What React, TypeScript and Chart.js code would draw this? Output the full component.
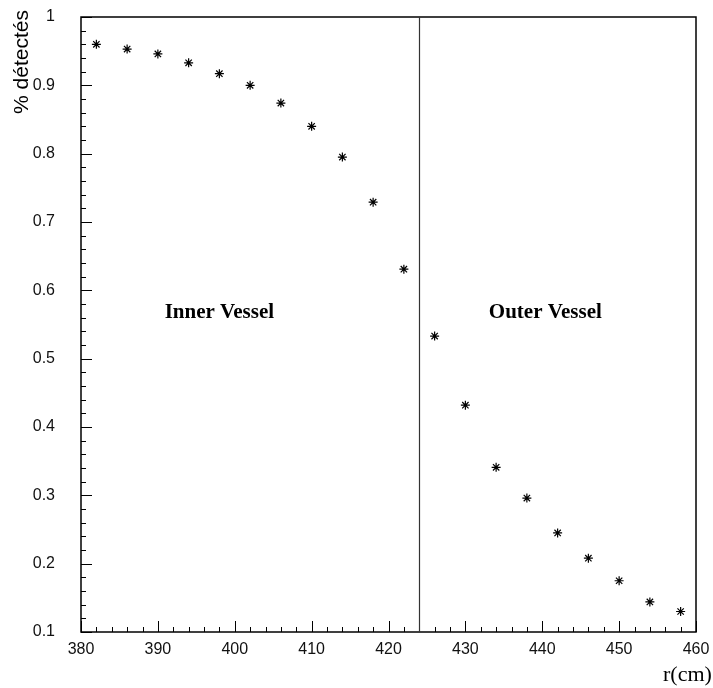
import React, { useEffect, useRef } from "react";
import { Chart, registerables } from "chart.js";

Chart.register(...registerables);

const radii = [382, 386, 390, 394, 398, 402, 406, 410, 414, 418, 422, 426, 430, 434, 438, 442, 446, 450, 454, 458];
const detected = [0.960, 0.953, 0.946, 0.933, 0.917, 0.900, 0.874, 0.840, 0.795, 0.729, 0.631, 0.533, 0.432, 0.341, 0.296, 0.245, 0.208, 0.175, 0.144, 0.130];
const boundary = 424;
const regionLabels = [
  { text: "Inner Vessel", x: 398, y: 0.567 },
  { text: "Outer Vessel", x: 440.4, y: 0.567 },
];
const xTitle = "r(cm)";
const yTitle = "% détectés";

const framePlugin = {
  id: "frame",
  afterDraw(chart: any) {
    const { ctx, chartArea, scales } = chart;
    const xs = scales.x;
    const ys = scales.y;
    ctx.save();
    ctx.strokeStyle = "#000";
    ctx.lineWidth = 1.5;
    ctx.strokeRect(chartArea.left, chartArea.top, chartArea.right - chartArea.left, chartArea.bottom - chartArea.top);
    ctx.lineWidth = 1;
    for (let v = 380; v <= 460; v += 2) {
      const px = Math.round(xs.getPixelForValue(v)) + 0.5;
      const len = v % 10 === 0 ? 11 : 5;
      ctx.beginPath();
      ctx.moveTo(px, chartArea.bottom);
      ctx.lineTo(px, chartArea.bottom - len);
      ctx.stroke();
    }
    for (let i = 0; i <= 45; i++) {
      const v = 0.1 + i * 0.02;
      const py = Math.round(ys.getPixelForValue(v)) + 0.5;
      const len = i % 5 === 0 ? 11 : 5;
      ctx.beginPath();
      ctx.moveTo(chartArea.left, py);
      ctx.lineTo(chartArea.left + len, py);
      ctx.stroke();
    }
    const bx = Math.round(xs.getPixelForValue(boundary)) + 0.5;
    ctx.strokeStyle = "#333";
    ctx.lineWidth = 1.2;
    ctx.beginPath();
    ctx.moveTo(bx, chartArea.top);
    ctx.lineTo(bx, chartArea.bottom);
    ctx.stroke();
    ctx.fillStyle = "#000";
    ctx.font = "bold 21px 'Liberation Serif', 'Times New Roman', serif";
    ctx.textAlign = "center";
    ctx.textBaseline = "middle";
    for (const l of regionLabels) {
      ctx.fillText(l.text, xs.getPixelForValue(l.x), ys.getPixelForValue(l.y));
    }
    ctx.font = "22px 'Liberation Serif', 'Times New Roman', serif";
    ctx.textAlign = "left";
    ctx.textBaseline = "alphabetic";
    ctx.fillText(xTitle, 663, 681);
    ctx.save();
    ctx.translate(28, 10);
    ctx.rotate(-Math.PI / 2);
    ctx.font = "21px 'Liberation Sans', Arial, sans-serif";
    ctx.textAlign = "right";
    ctx.textBaseline = "alphabetic";
    ctx.fillText(yTitle, 0, 0);
    ctx.restore();
    ctx.restore();
  },
};

export default function App() {
  const ref = useRef<HTMLCanvasElement>(null);
  useEffect(() => {
    document.body.style.margin = "0";
    const canvas = ref.current!;
    const chart = new Chart(canvas, {
      type: "scatter",
      data: {
        datasets: [
          {
            data: radii.map((r, i) => ({ x: r, y: detected[i] })),
            pointStyle: "star",
            pointRadius: 4.5,
            borderColor: "#000",
            backgroundColor: "#000",
            borderWidth: 1.2,
          },
        ],
      },
      options: {
        animation: false,
        responsive: false,
        maintainAspectRatio: false,
        layout: { padding: { top: 17, right: 17, left: 0, bottom: 0 } },
        plugins: { legend: { display: false }, tooltip: { enabled: false } },
        scales: {
          x: {
            type: "linear",
            min: 380,
            max: 460,
            grid: { display: false },
            border: { display: false },
            ticks: {
              stepSize: 10,
              padding: 0,
              color: "#111",
              maxRotation: 0,
              font: { family: "'Liberation Sans', Arial, sans-serif", size: 16 },
            },
            afterFit(scale: any) {
              scale.height = 56;
              scale.paddingLeft = 0;
              scale.paddingRight = 0;
            },
          },
          y: {
            type: "linear",
            min: 0.1,
            max: 1,
            grid: { display: false },
            border: { display: false },
            ticks: {
              stepSize: 0.1,
              padding: 18,
              color: "#111",
              font: { family: "'Liberation Sans', Arial, sans-serif", size: 16 },
              callback: (v: any) => {
                const n = Math.round(Number(v) * 10) / 10;
                return n === 1 ? "1" : n.toFixed(1);
              },
            },
            afterFit(scale: any) {
              scale.width = 81;
              scale.paddingTop = 0;
              scale.paddingBottom = 0;
            },
          },
        },
      },
      plugins: [framePlugin],
    });
    return () => chart.destroy();
  }, []);
  return (
    <div style={{ width: 713, height: 688 }}>
      <canvas ref={ref} width={713} height={688} style={{ display: "block" }} />
    </div>
  );
}
